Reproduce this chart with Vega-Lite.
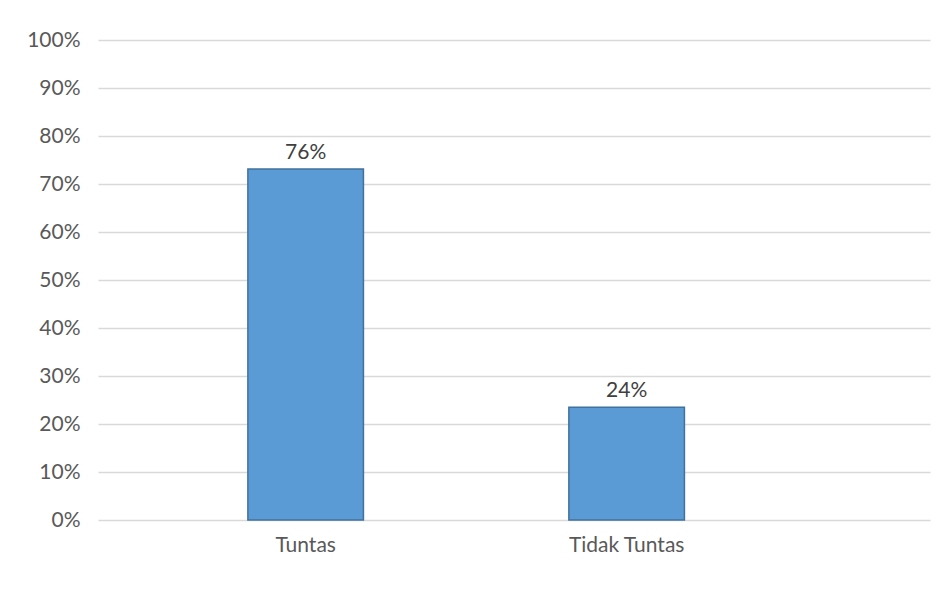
{
  "$schema": "https://vega.github.io/schema/vega-lite/v6.json",
  "width": 832,
  "height": 480,
  "autosize": {"type": "none"},
  "padding": {"left": 98, "top": 40, "right": 21, "bottom": 86},
  "background": "white",
  "config": {
    "view": {"stroke": null},
    "font": "Lato",
    "axis": {"labelFont": "Lato", "labelFontSize": 21, "labelColor": "#595959"}
  },
  "data": {
    "values": [
      {"kategori": "Tuntas", "nilai": 0.731, "label": "76%"},
      {"kategori": "Tidak Tuntas", "nilai": 0.235, "label": "24%"}
    ]
  },
  "encoding": {
    "x": {
      "field": "kategori",
      "type": "nominal",
      "sort": null,
      "scale": {"paddingInner": 0.64, "paddingOuter": 0.616, "align": 0.379},
      "axis": {"title": null, "labelAngle": 0, "domain": false, "ticks": false, "labelPadding": 14}
    },
    "y": {
      "field": "nilai",
      "type": "quantitative",
      "scale": {"domain": [0, 1], "nice": false},
      "axis": {
        "title": null,
        "format": ".0%",
        "values": [0, 0.1, 0.2, 0.3, 0.4, 0.5, 0.6, 0.7, 0.8, 0.9, 1],
        "domain": false,
        "ticks": false,
        "labelPadding": 18,
        "gridColor": "#d9d9d9",
        "gridWidth": 1.5
      }
    }
  },
  "layer": [
    {
      "mark": {"type": "bar", "color": "#5b9bd5", "stroke": "#41719c", "strokeWidth": 1.5}
    },
    {
      "mark": {"type": "text", "baseline": "alphabetic", "dy": -10, "fontSize": 21, "color": "#404040", "font": "Lato"},
      "encoding": {"text": {"field": "label"}}
    }
  ]
}
